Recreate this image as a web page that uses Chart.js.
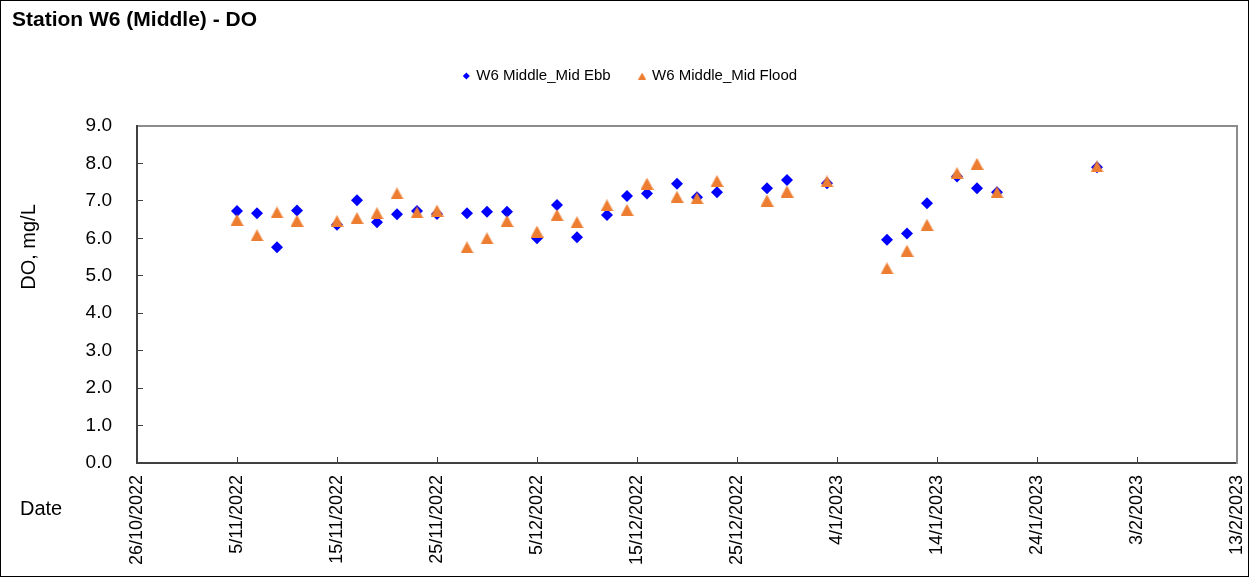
<!DOCTYPE html>
<html>
<head>
<meta charset="utf-8">
<title>Station W6 (Middle) - DO</title>
<script src="https://cdn.jsdelivr.net/npm/chart.js@4.4.1/dist/chart.umd.min.js"></script>
<style>
    html, body { margin: 0; padding: 0; background: #fff; }
    canvas { display: block; }
</style>
</head>
<body>
<canvas id="doChart" width="1249" height="577"></canvas>
<script>
// sampling dates, shared by both tide states
const sampleDates = [
    '2022-11-05', '2022-11-07', '2022-11-09', '2022-11-11', '2022-11-15', '2022-11-17',
    '2022-11-19', '2022-11-21', '2022-11-23', '2022-11-25', '2022-11-28', '2022-11-30',
    '2022-12-02', '2022-12-05', '2022-12-07', '2022-12-09', '2022-12-12', '2022-12-14',
    '2022-12-16', '2022-12-19', '2022-12-21', '2022-12-23', '2022-12-28', '2022-12-30',
    '2023-01-03', '2023-01-09', '2023-01-11', '2023-01-13', '2023-01-16', '2023-01-18',
    '2023-01-20', '2023-01-30'
];

// DO (mg/L) at mid depth
const midEbb = [
    6.73, 6.67, 5.76, 6.74, 6.36, 7.02, 6.43, 6.64, 6.73, 6.65, 6.67, 6.71,
    6.71, 6.00, 6.89, 6.03, 6.62, 7.13, 7.20, 7.46, 7.10, 7.23, 7.34, 7.56,
    7.47, 5.96, 6.13, 6.94, 7.65, 7.34, 7.23, 7.90
];
const midFlood = [
    6.49, 6.08, 6.69, 6.47, 6.46, 6.54, 6.67, 7.20, 6.69, 6.74, 5.76, 6.00,
    6.46, 6.18, 6.62, 6.43, 6.88, 6.76, 7.46, 7.11, 7.07, 7.53, 7.01, 7.25,
    7.52, 5.20, 5.67, 6.36, 7.74, 7.99, 7.23, 7.92
];

// x axis runs in days from 26/10/2022, a tick every 10 days
const axisStart = '2022-10-26';
const axisDays = 110;
const yTicks = [0, 1, 2, 3, 4, 5, 6, 7, 8, 9];

const DAY = 24 * 60 * 60 * 1000;
const startMs = Date.parse(axisStart);
const FONT = "'Liberation Sans', Arial, sans-serif";
const BLUE = '#0000ff';
const ORANGE = '#ed7d31';

function dayOf(iso) {
    return (Date.parse(iso) - startMs) / DAY;
}

function dayLabel(value) {
    const d = new Date(startMs + value * DAY);
    return `${d.getUTCDate()}/${d.getUTCMonth() + 1}/${d.getUTCFullYear()}`;
}

function toPoints(values) {
    return values.map((v, i) => ({x: dayOf(sampleDates[i]), y: v}));
}

// triangle marker centred on its bounding box
function triangleMarker(w, h, color) {
    const c = document.createElement('canvas');
    c.width = w;
    c.height = h;
    const ctx = c.getContext('2d');
    ctx.fillStyle = color;
    ctx.beginPath();
    ctx.moveTo(w / 2, 0);
    ctx.lineTo(w, h);
    ctx.lineTo(0, h);
    ctx.closePath();
    ctx.fill();
    return c;
}

const frame = {
    id: 'frame',
    beforeDraw(chart) {
        const ctx = chart.ctx;
        ctx.save();
        ctx.fillStyle = '#fff';
        ctx.fillRect(0, 0, chart.width, chart.height);
        ctx.restore();
    },
    afterDraw(chart) {
        const ctx = chart.ctx;
        ctx.save();
        ctx.strokeStyle = '#000';
        ctx.lineWidth = 1;
        ctx.strokeRect(0.5, 0.5, chart.width - 1, chart.height - 1);
        ctx.restore();
    }
};

// axis captions sit left of the plot, not centred on it
const axisCaptions = {
    id: 'axisCaptions',
    afterDraw(chart) {
        const ctx = chart.ctx;
        const area = chart.chartArea;
        ctx.save();
        ctx.fillStyle = '#000';
        ctx.font = `20px ${FONT}`;
        ctx.textBaseline = 'middle';

        ctx.save();
        ctx.translate(29, area.top + 121);
        ctx.rotate(-Math.PI / 2);
        ctx.textAlign = 'center';
        ctx.fillText('DO, mg/L', 0, 0);
        ctx.restore();

        ctx.textAlign = 'left';
        ctx.fillText('Date', 20, area.bottom + 46);
        ctx.restore();
    }
};

Chart.defaults.color = '#000';
Chart.defaults.font.family = FONT;

const ctx = document.getElementById('doChart').getContext('2d');
new Chart(ctx, {
    type: 'scatter',
    data: {
        datasets: [{
            label: 'W6 Middle_Mid Ebb',
            data: toPoints(midEbb),
            pointStyle: 'rectRot',
            pointRadius: 6,
            pointHoverRadius: 6,
            pointBorderWidth: 0,
            backgroundColor: BLUE,
            borderColor: BLUE,
            legendMarker: 'rectRot',
            order: 1
        }, {
            label: 'W6 Middle_Mid Flood',
            data: toPoints(midFlood),
            pointStyle: triangleMarker(13, 12, ORANGE),
            pointRadius: 6,
            pointHoverRadius: 6,
            pointBorderWidth: 0,
            backgroundColor: ORANGE,
            borderColor: ORANGE,
            legendMarker: triangleMarker(8, 7, ORANGE),
            order: 0
        }]
    },
    options: {
        responsive: false,
        animation: false,
        layout: { padding: { left: 12, right: 0, top: 0, bottom: 0 } },
        plugins: {
            title: {
                display: true,
                text: 'Station W6 (Middle) - DO',
                align: 'start',
                color: '#000',
                font: { family: FONT, size: 21, weight: 'bold' },
                padding: { top: 7.4, bottom: 6.9 }
            },
            legend: {
                display: true,
                position: 'top',
                labels: {
                    usePointStyle: true,
                    boxWidth: 5,
                    boxHeight: 5,
                    padding: 29,
                    color: '#000',
                    font: { family: FONT, size: 15 },
                    generateLabels: chart => chart.data.datasets.map((ds, i) => ({
                        text: ds.label,
                        datasetIndex: i,
                        pointStyle: ds.legendMarker,
                        fillStyle: ds.backgroundColor,
                        strokeStyle: ds.borderColor,
                        lineWidth: 0,
                        hidden: false,
                        fontColor: '#000'
                    }))
                }
            },
            tooltip: { enabled: false }
        },
        scales: {
            x: {
                type: 'linear',
                position: 'bottom',
                min: 0,
                max: axisDays,
                ticks: {
                    stepSize: 10,
                    autoSkip: false,
                    minRotation: 90,
                    maxRotation: 90,
                    padding: 18,
                    color: '#000',
                    font: { family: FONT, size: 18 },
                    callback: value => dayLabel(value)
                },
                grid: { drawOnChartArea: false, drawTicks: true, tickLength: -6, color: '#404040', lineWidth: 1 },
                border: { display: true, color: '#404040', width: 2 },
                afterFit: scale => {
                    scale.height = 114;
                    scale.paddingLeft = 0;
                    scale.paddingRight = 0;
                }
            },
            xTop: {
                type: 'linear',
                position: 'top',
                min: 0,
                max: axisDays,
                ticks: { display: false },
                grid: { display: false },
                border: { display: true, color: '#8c8c8c', width: 2 },
                afterFit: scale => {
                    scale.height = 32.5;
                    scale.paddingLeft = 0;
                    scale.paddingRight = 0;
                }
            },
            y: {
                type: 'linear',
                position: 'left',
                min: yTicks[0],
                max: yTicks[yTicks.length - 1],
                afterBuildTicks: scale => { scale.ticks = yTicks.map(v => ({value: v})); },
                ticks: {
                    padding: 31,
                    color: '#000',
                    font: { family: FONT, size: 19 },
                    callback: value => value.toFixed(1)
                },
                grid: { drawOnChartArea: false, drawTicks: true, tickLength: -6, color: '#404040', lineWidth: 1 },
                border: { display: true, color: '#404040', width: 2 },
                afterFit: scale => {
                    scale.width = 125;
                    scale.paddingTop = 0;
                    scale.paddingBottom = 0;
                }
            },
            yRight: {
                type: 'linear',
                position: 'right',
                min: 0,
                max: 9,
                ticks: { display: false },
                grid: { display: false },
                border: { display: true, color: '#8c8c8c', width: 2 },
                afterFit: scale => {
                    scale.width = 12;
                    scale.paddingTop = 0;
                    scale.paddingBottom = 0;
                }
            }
        }
    },
    plugins: [frame, axisCaptions]
});
</script>
</body>
</html>
